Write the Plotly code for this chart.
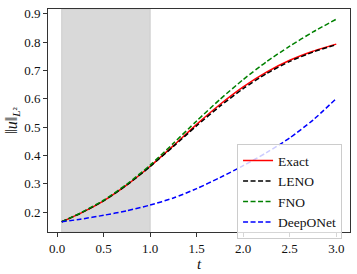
import plotly.graph_objects as go

t = [0.05, 0.25, 0.5, 0.75, 1.0, 1.25, 1.5, 1.75, 2.0, 2.25, 2.5, 2.75, 3.0]
exact = [0.166, 0.196, 0.240, 0.296, 0.362, 0.435, 0.510, 0.580, 0.642, 0.694, 0.736, 0.768, 0.793]
leno = [0.166, 0.196, 0.240, 0.296, 0.361, 0.432, 0.505, 0.574, 0.636, 0.689, 0.732, 0.765, 0.791]
fno = [0.166, 0.197, 0.242, 0.299, 0.366, 0.443, 0.522, 0.598, 0.668, 0.731, 0.786, 0.836, 0.881]
deeponet = [0.166, 0.175, 0.189, 0.205, 0.225, 0.250, 0.283, 0.322, 0.364, 0.410, 0.462, 0.525, 0.601]
shade_range = [0.05, 1.0]
xticks = [0.0, 0.5, 1.0, 1.5, 2.0, 2.5, 3.0]
yticks = [0.2, 0.3, 0.4, 0.5, 0.6, 0.7, 0.8, 0.9]

font = "'Liberation Serif', 'Times New Roman', serif"

fig = go.Figure()
fig.add_vrect(x0=shade_range[0], x1=shade_range[1], fillcolor="rgb(217,217,217)",
              line=dict(color="rgb(205,205,205)", width=1), layer="below")

series = [
    ("Exact", exact, "red", "solid"),
    ("LENO", leno, "black", "5px,2.5px"),
    ("FNO", fno, "green", "5px,2.5px"),
    ("DeepONet", deeponet, "blue", "5px,2.5px"),
]
for name, ys, col, dash in series:
    fig.add_trace(go.Scatter(x=t, y=ys, mode="lines", name=name,
                             line=dict(color=col, width=1.5, dash=dash, shape="spline", smoothing=0.6)))

axis_common = dict(showline=True, linecolor="#333", linewidth=1, mirror=True,
                   ticks="outside", ticklen=4, tickwidth=1, tickcolor="#333",
                   showgrid=False, zeroline=False,
                   tickfont=dict(family=font, size=13, color="#111"))

fig.update_layout(
    width=357, height=274,
    margin=dict(l=48, r=7, t=6, b=42),
    plot_bgcolor="white", paper_bgcolor="white",
    font=dict(family=font, size=13, color="#111"),
    xaxis=dict(range=[-0.0975, 3.1475], tickvals=xticks,
               ticktext=[f"{v:.1f}" for v in xticks],
               title=dict(text="<i>t</i>", font=dict(family=font, size=15), standoff=2),
               **axis_common),
    yaxis=dict(range=[0.130, 0.917], tickvals=yticks,
               ticktext=[f"{v:.1f}" for v in yticks],
               title=dict(text="‖<i>u</i>‖<sub><i>L</i>²</sub>", font=dict(family=font, size=16), standoff=2),
               **axis_common),
    legend=dict(x=0.626, y=0.394, xanchor="left", yanchor="top",
                bgcolor="rgba(255,255,255,0.8)", bordercolor="#ccc", borderwidth=1,
                font=dict(family=font, size=13.5), tracegroupgap=0),
    showlegend=True,
)

fig.write_html("out.html", config={"displayModeBar": False},
               post_script="document.body.style.margin='0';")
